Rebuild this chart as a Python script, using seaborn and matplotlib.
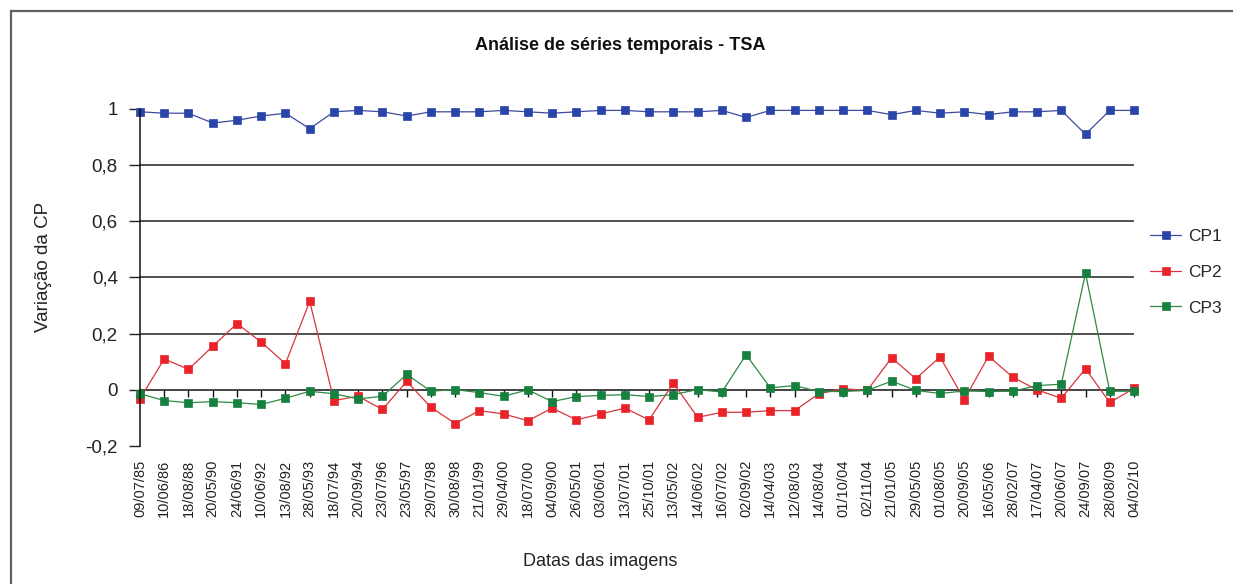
import numpy as np
import pandas as pd
import matplotlib
matplotlib.use("Agg")
import matplotlib.pyplot as plt
from matplotlib.patches import Rectangle
import seaborn as sns

# Data
datas = [
    "09/07/85", "10/06/86", "18/08/88", "20/05/90", "24/06/91", "10/06/92",
    "13/08/92", "28/05/93", "18/07/94", "20/09/94", "23/07/96", "23/05/97",
    "29/07/98", "30/08/98", "21/01/99", "29/04/00", "18/07/00", "04/09/00",
    "26/05/01", "03/06/01", "13/07/01", "25/10/01", "13/05/02", "14/06/02",
    "16/07/02", "02/09/02", "14/04/03", "12/08/03", "14/08/04", "01/10/04",
    "02/11/04", "21/01/05", "29/05/05", "01/08/05", "20/09/05", "16/05/06",
    "28/02/07", "17/04/07", "20/06/07", "24/09/07", "28/08/09", "04/02/10",
]
cp1 = [0.99, 0.985, 0.985, 0.95, 0.96, 0.975, 0.985, 0.93, 0.99, 0.995,
       0.99, 0.975, 0.99, 0.99, 0.99, 0.995, 0.99, 0.985, 0.99, 0.995,
       0.995, 0.99, 0.99, 0.99, 0.995, 0.97, 0.995, 0.995, 0.995, 0.995,
       0.995, 0.98, 0.995, 0.985, 0.99, 0.98, 0.99, 0.99, 0.995, 0.91,
       0.995, 0.995]
cp2 = [-0.032, 0.11, 0.073, 0.155, 0.236, 0.17, 0.093, 0.315, -0.038, -0.023,
       -0.07, 0.03, -0.062, -0.12, -0.074, -0.086, -0.11, -0.065, -0.107, -0.086,
       -0.065, -0.107, 0.024, -0.098, -0.08, -0.08, -0.074, -0.074, -0.014, 0.004,
       -0.002, 0.114, 0.04, 0.117, -0.035, 0.12, 0.045, 0.0, -0.03, 0.075,
       -0.045, 0.005]
cp3 = [-0.014, -0.038, -0.046, -0.042, -0.046, -0.052, -0.03, -0.005, -0.014, -0.032,
       -0.023, 0.055, -0.005, 0.001, -0.01, -0.023, 0.0, -0.042, -0.024, -0.02,
       -0.017, -0.024, -0.017, 0.001, -0.008, 0.125, 0.007, 0.015, -0.006, -0.006,
       -0.002, 0.031, -0.002, -0.013, -0.004, -0.006, -0.005, 0.015, 0.02, 0.415,
       -0.005, -0.005]
yticks = [-0.2, 0, 0.2, 0.4, 0.6, 0.8, 1]
ytick_labels = ["-0,2", "0", "0,2", "0,4", "0,6", "0,8", "1"]

series = [
    ("CP1", cp1, "#3F4AA0", "#2A45AA"),
    ("CP2", cp2, "#D8353C", "#E8242A"),
    ("CP3", cp3, "#2E8A46", "#16803E"),
]

sns.set_style("white")
plt.rcParams["font.family"] = ["Liberation Sans", "DejaVu Sans"]

fig = plt.figure(figsize=(12.33, 5.84), dpi=100)
ax = fig.add_axes([140 / 1233, 138 / 584, 994 / 1233, 337 / 584])

pos = np.arange(len(datas))
for nome, vals, lc, mc in series:
    df = pd.DataFrame({"pos": pos, "valor": vals})
    sns.lineplot(data=df, x="pos", y="valor", ax=ax, color=lc, linewidth=0.9,
                 marker="s", markersize=6, markerfacecolor=mc,
                 markeredgecolor=mc, markeredgewidth=0.5, label=nome,
                 clip_on=False)

ax.set_xlim(0, len(datas) - 1)
ax.set_ylim(-0.2, 1)

# y axis
ax.set_yticks(yticks)
ax.set_yticklabels(ytick_labels)
ax.tick_params(axis="y", direction="out", length=8, width=1, pad=8,
               labelsize=13.5, left=True, colors="#222222")
ax.yaxis.grid(True, color="#222222", linewidth=1.1)
for t, gl in zip(yticks, ax.yaxis.get_gridlines()):
    if t in (-0.2, 0, 1):
        gl.set_visible(False)

# x labels at the bottom, axis line at zero
ax.set_xticks(pos)
ax.set_xticklabels(datas, rotation=90)
ax.tick_params(axis="x", length=0, pad=10, labelsize=10.5, colors="#222222")
sec = ax.secondary_xaxis(0.2 / 1.2)
sec.set_xticks(pos)
sec.set_xticklabels([])
sec.tick_params(axis="x", direction="out", length=5, width=1, color="#111111")
sec.spines["bottom"].set_color("#111111")
sec.spines["bottom"].set_linewidth(1.1)

for s in ["top", "right", "bottom"]:
    ax.spines[s].set_visible(False)
ax.spines["left"].set_color("#111111")
ax.spines["left"].set_linewidth(1.1)

ax.set_xlabel("")
ax.set_ylabel("")
fig.text(600 / 1233, 1 - 562 / 584, "Datas das imagens", ha="center",
         va="center", fontsize=13, color="#222222")
fig.text(44 / 1233, 1 - 267 / 584, "Variação da CP", ha="center",
         va="center", rotation=90, fontsize=13.5, color="#222222")
fig.text(620 / 1233, 1 - 45 / 584, "Análise de séries temporais - TSA",
         ha="center", va="center", fontsize=13, fontweight="bold",
         color="#111111")

ax.legend(loc="center left", bbox_to_anchor=(1150 / 1233, 1 - 272 / 584),
          bbox_transform=fig.transFigure, frameon=False, fontsize=12.5,
          handlelength=1.8, handletextpad=0.4, labelspacing=1.2,
          borderpad=0, borderaxespad=0)

# chart border: only left and top edges fall inside the crop
fig.patches.append(Rectangle((11 / 1233, -0.05), 1.2, 1 - 11 / 584 + 0.05,
                             transform=fig.transFigure,
                             fill=False, edgecolor="#606060", linewidth=1.6))

fig.savefig("out.png", dpi=100)
plt.close(fig)
